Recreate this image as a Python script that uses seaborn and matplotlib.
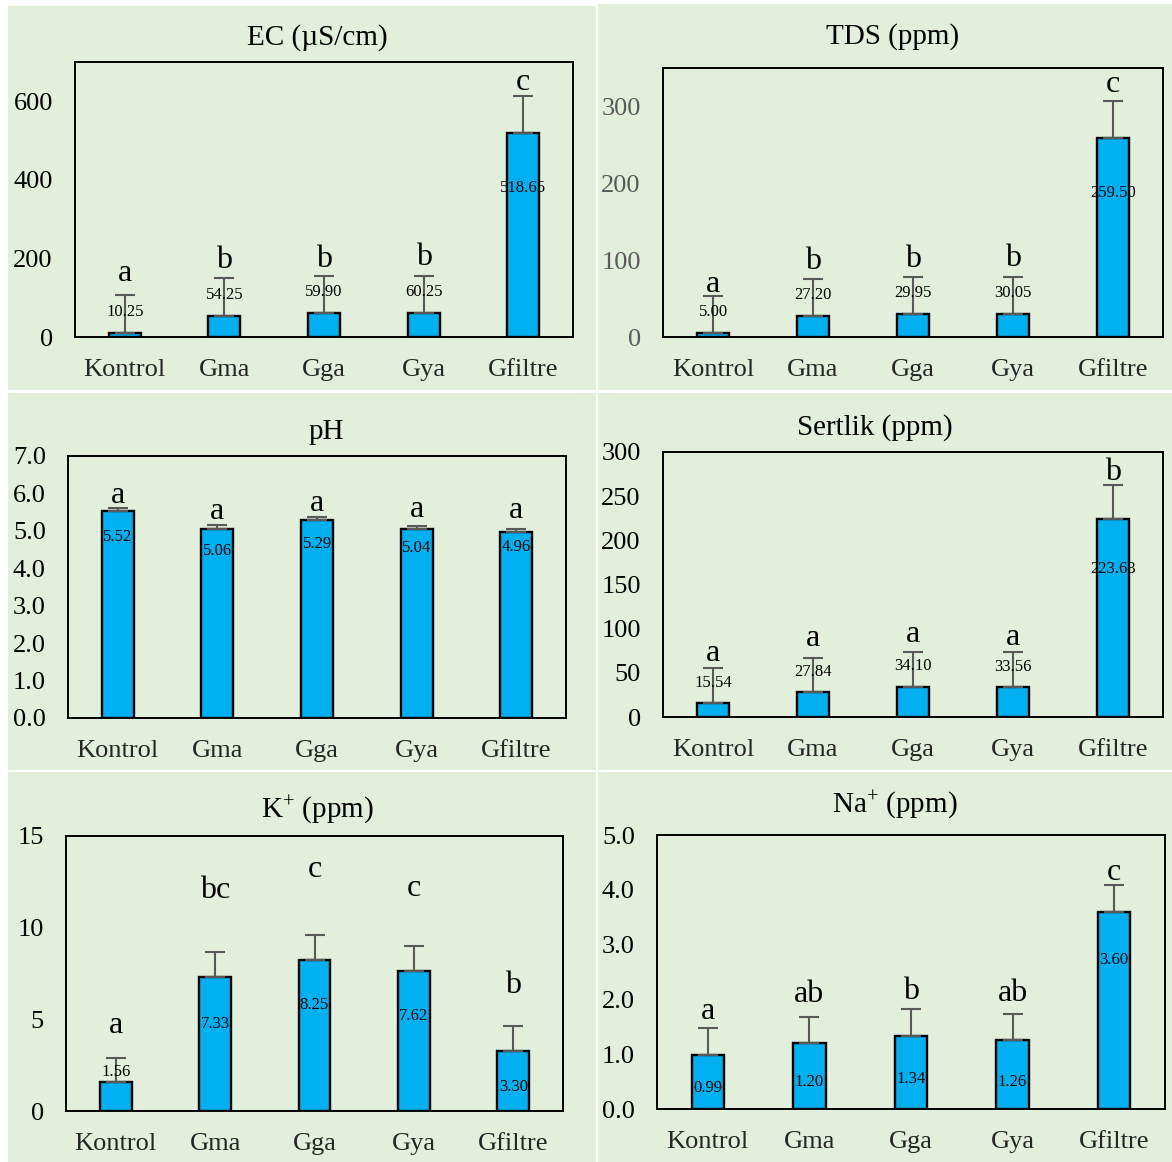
import matplotlib
matplotlib.use("Agg")
import matplotlib.pyplot as plt
import matplotlib.transforms as mtransforms
from matplotlib.patches import Rectangle
import numpy as np
import pandas as pd
import seaborn as sns

# ---- data -------------------------------------------------------------
categories = ["Kontrol", "Gma", "Gga", "Gya", "Gfiltre"]

ec_mean = [10.25, 54.25, 59.90, 60.25, 518.65]
ec_err = [96, 96, 96, 96, 96]
ec_letters = ["a", "b", "b", "b", "c"]
ec_letter_y = [168, 201, 205, 210, 656]
ec_value_y = [63, 106, 114, 114, 378]

tds_mean = [5.00, 27.20, 29.95, 30.05, 259.50]
tds_err = [48, 48, 48, 48, 48]
tds_letters = ["a", "b", "b", "b", "c"]
tds_letter_y = [72, 102, 104, 106, 332]
tds_value_y = [32, 55, 57, 57, 188]

ph_mean = [5.52, 5.06, 5.29, 5.04, 4.96]
ph_err = [0.10, 0.09, 0.08, 0.10, 0.10]
ph_letters = ["a", "a", "a", "a", "a"]
ph_letter_y = [6.02, 5.58, 5.81, 5.64, 5.62]
ph_value_y = [4.84, 4.46, 4.64, 4.55, 4.57]

sertlik_mean = [15.54, 27.84, 34.10, 33.56, 223.63]
sertlik_err = [39.5, 39.5, 39.5, 39.5, 39.5]
sertlik_letters = ["a", "a", "a", "a", "b"]
sertlik_letter_y = [74.5, 91.5, 97, 92.6, 280]
sertlik_value_y = [38.5, 50.6, 57.4, 56.3, 168]

k_mean = [1.56, 7.33, 8.25, 7.62, 3.30]
k_err = [1.33, 1.33, 1.33, 1.36, 1.32]
k_letters = ["a", "bc", "c", "c", "b"]
k_letter_y = [4.8, 12.2, 13.3, 12.3, 7.0]
k_value_y = [2.13, 4.73, 5.76, 5.16, 1.31]

na_mean = [0.99, 1.20, 1.34, 1.26, 3.60]
na_err = [0.48, 0.48, 0.48, 0.48, 0.48]
na_letters = ["a", "ab", "b", "ab", "c"]
na_letter_y = [1.83, 2.14, 2.19, 2.16, 4.36]
na_value_y = [0.38, 0.49, 0.55, 0.49, 2.71]

# ---- style ------------------------------------------------------------
sns.set_theme(style="white")
plt.rcParams["font.family"] = ["Liberation Serif", "DejaVu Serif"]
plt.rcParams["mathtext.fontset"] = "custom"
plt.rcParams["mathtext.rm"] = "Liberation Serif"
plt.rcParams["mathtext.it"] = "Liberation Serif:italic"

W, H = 1172, 1162
fig = plt.figure(figsize=(W / 100, H / 100), dpi=100, facecolor="white")

PANEL_BG = "#E2EFDA"
BAR = "#00B0F0"

# panel backgrounds (pixel boxes: left, top, right, bottom)
panels = [(8, 6, 596, 390), (598, 4, 1172, 390),
          (8, 393, 596, 770), (598, 393, 1172, 770),
          (8, 772, 596, 1162), (598, 772, 1172, 1162)]
for l, t, r, b in panels:
    fig.patches.append(Rectangle((l / W, 1 - b / H), (r - l) / W, (b - t) / H,
                                 transform=fig.transFigure, facecolor=PANEL_BG,
                                 edgecolor="none", zorder=-5))


def add_ax(l, t, r, b):
    return fig.add_axes([l / W, 1 - b / H, (r - l) / W, (b - t) / H])


charts = [
    dict(title="EC (µS/cm)", title_xy=(317, 38), box=(75, 62, 573, 337),
         mean=ec_mean, err=ec_err, letters=ec_letters, letter_y=ec_letter_y,
         value_y=ec_value_y, ylim=(0, 700), ticks=[0, 200, 400, 600],
         fmt="{:.0f}", tick_color="black"),
    dict(title="TDS (ppm)", title_xy=(893, 37), box=(663, 68, 1163, 337),
         mean=tds_mean, err=tds_err, letters=tds_letters, letter_y=tds_letter_y,
         value_y=tds_value_y, ylim=(0, 350), ticks=[0, 100, 200, 300],
         fmt="{:.0f}", tick_color="#595959"),
    dict(title="pH", title_xy=(326, 432), box=(68, 456, 566, 718),
         mean=ph_mean, err=ph_err, letters=ph_letters, letter_y=ph_letter_y,
         value_y=ph_value_y, ylim=(0, 7), ticks=list(range(0, 8)),
         fmt="{:.1f}", tick_color="black"),
    dict(title="Sertlik (ppm)", title_xy=(875, 428), box=(663, 452, 1163, 717),
         mean=sertlik_mean, err=sertlik_err, letters=sertlik_letters,
         letter_y=sertlik_letter_y, value_y=sertlik_value_y, ylim=(0, 300),
         ticks=list(range(0, 301, 50)), fmt="{:.0f}", tick_color="black"),
    dict(title="K$^{+}$ (ppm)", title_xy=(317, 810), box=(66, 836, 563, 1111),
         mean=k_mean, err=k_err, letters=k_letters, letter_y=k_letter_y,
         value_y=k_value_y, ylim=(0, 15), ticks=[0, 5, 10, 15],
         fmt="{:.0f}", tick_color="black"),
    dict(title="Na$^{+}$ (ppm)", title_xy=(895, 805), box=(657, 835, 1165, 1109),
         mean=na_mean, err=na_err, letters=na_letters, letter_y=na_letter_y,
         value_y=na_value_y, ylim=(0, 5), ticks=list(range(0, 6)),
         fmt="{:.1f}", tick_color="black"),
]

for c in charts:
    ax = add_ax(*c["box"])
    ax.set_zorder(2)
    ax.patch.set_alpha(0)
    df = pd.DataFrame({"cat": categories, "val": c["mean"]})
    sns.barplot(data=df, x="cat", y="val", ax=ax, color=BAR, saturation=1,
                edgecolor="black", linewidth=1.7, width=0.32, errorbar=None)
    xs = np.arange(len(categories))
    ax.errorbar(xs, c["mean"], yerr=[np.zeros(len(xs)), c["err"]], fmt="none",
                ecolor="#595959", elinewidth=1.5, capsize=7, capthick=1.5,
                zorder=3)
    letter_tf = mtransforms.offset_copy(ax.transData, fig=fig, x=0, y=-2,
                                        units="points")
    for i, (lab, ly) in enumerate(zip(c["letters"], c["letter_y"])):
        ax.text(i, ly, lab, ha="center", va="center", fontsize=23,
                color="black", transform=letter_tf)
    for i, (v, vy) in enumerate(zip(c["mean"], c["value_y"])):
        ax.text(i, vy, f"{v:.2f}", ha="center", va="center", fontsize=12,
                color="black", zorder=4)
    ax.set_xlim(-0.5, len(categories) - 0.5)
    ax.set_ylim(*c["ylim"])
    ax.set_yticks(c["ticks"])
    ax.set_yticklabels([c["fmt"].format(t) for t in c["ticks"]],
                       color=c["tick_color"], fontsize=19)
    ax.set_xticks(xs)
    ax.set_xticklabels(categories, fontsize=19)
    ax.tick_params(axis="both", length=0)
    ax.tick_params(axis="y", pad=16)
    ax.tick_params(axis="x", pad=16)
    ax.set_xlabel("")
    ax.set_ylabel("")
    for s in ax.spines.values():
        s.set_visible(True)
        s.set_color("black")
        s.set_linewidth(1.4)
    tx, ty = c["title_xy"]
    fig.text(tx / W, 1 - ty / H, c["title"], ha="center", va="center",
             fontsize=21, color="black")

fig.savefig("out.png", dpi=100, facecolor="white")
